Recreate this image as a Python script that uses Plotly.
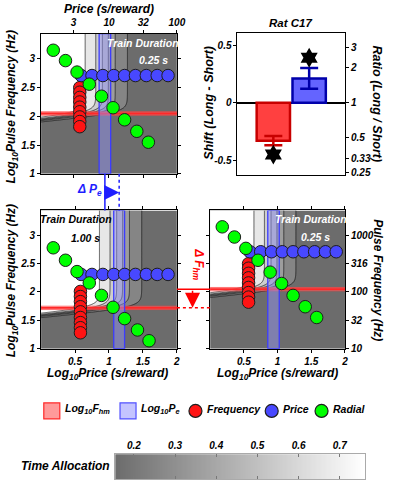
import numpy as np
import plotly.graph_objects as go

W, H = 397, 489

# ---------------- data ----------------
# 0.25 s train duration (top-left and bottom-right panels)
short_freq_logP = [0.57, 0.57, 0.57, 0.57, 0.57, 0.57, 0.57, 0.57, 0.57]
short_freq_logF = [2.50, 2.42, 2.33, 2.25, 2.16, 2.08, 1.99, 1.91, 1.82]
short_price_logP = [0.59, 0.75, 0.91, 1.07, 1.23, 1.39, 1.55, 1.71, 1.87]
short_price_logF = [2.71, 2.71, 2.71, 2.71, 2.71, 2.71, 2.71, 2.71, 2.71]
short_radial_logP = [0.18, 0.36, 0.53, 0.71, 0.89, 1.06, 1.23, 1.41, 1.58]
short_radial_logF = [3.15, 2.97, 2.77, 2.56, 2.35, 2.15, 1.94, 1.74, 1.55]

# 1.00 s train duration (bottom-left panel)
long_freq_logP = [0.58, 0.58, 0.58, 0.58, 0.58, 0.58, 0.58, 0.58, 0.58]
long_freq_logF = [2.01, 1.92, 1.83, 1.74, 1.65, 1.55, 1.46, 1.37, 1.28]
long_price_logP = [0.59, 0.75, 0.91, 1.07, 1.23, 1.39, 1.55, 1.71, 1.87]
long_price_logF = [2.31, 2.31, 2.31, 2.31, 2.31, 2.31, 2.31, 2.31, 2.31]
long_radial_logP = [0.18, 0.36, 0.53, 0.71, 0.89, 1.06, 1.23, 1.42, 1.59]
long_radial_logF = [2.78, 2.56, 2.36, 2.16, 1.94, 1.73, 1.53, 1.33, 1.14]

# fitted mountain parameters [short, long]
log_fhm = [2.05, 1.72]
log_fhm_ci = [0.03, 0.03]
log_pe = [0.94, 1.15]
log_pe_ci = [0.085, 0.08]
ta_min = 0.155
ta_max = 0.76
a_exp = 3.3
g_exp = 8.5

# shifts (long - short)
bar_categories = ["Frequency", "Price"]
shift_values = [-0.33, 0.21]
shift_errors = [0.04, 0.09]
star_y = [-0.45, 0.39]

# tick labels
price_ticks = [3, 10, 32, 100]
pulse_ticks = [10, 32, 100, 316, 1000]
ratio_ticks = [3, 2, 1, 0.5, 0.33, 0.25]
logF_ticks = [1, 1.5, 2, 2.5, 3]
logP_ticks = [0.5, 1, 1.5, 2]
ta_ticks = [0.2, 0.3, 0.4, 0.5, 0.6, 0.7]

# ---------------- style / layout helpers ----------------
FONT = "Liberation Sans, Arial, sans-serif"
XR = [0, 2]
YR = [1, 3.44]
RED = "rgb(255,20,20)"
BLUE = "rgb(72,72,255)"
GREEN = "rgb(0,255,0)"
GRAYSCALE = [[0, "rgb(108,108,108)"], [1, "rgb(255,255,255)"]]


def dx(p0, p1):
    return [p0 / W, p1 / W]


def dy(p_top, p_bot):
    return [1 - p_bot / H, 1 - p_top / H]


def fnt(size, color="black"):
    return dict(family=FONT, size=size, color=color, weight="bold", style="italic")


def mountain(lp, lf, fhm, pe):
    intensity = 1.0 / (1.0 + 10 ** (g_exp * (fhm - lf)))
    d = np.log10(intensity) + pe - lp
    return ta_min + (ta_max - ta_min) / (1.0 + 10 ** (-a_exp * d))


gx = np.linspace(XR[0], XR[1], 241)
gy = np.linspace(YR[0], YR[1], 301)
GX, GY = np.meshgrid(gx, gy)

fig = go.Figure()


def add_panel(xa, ya, idx, freq, price, radial):
    z = mountain(GX, GY, log_fhm[idx], log_pe[idx])
    fig.add_trace(go.Contour(
        x=gx, y=gy, z=z, xaxis=xa, yaxis=ya, colorscale=GRAYSCALE,
        zmin=ta_min, zmax=ta_max, zauto=False, showscale=False,
        contours=dict(start=0.2, end=0.7, size=0.1, coloring="fill"),
        line=dict(color="rgb(20,20,20)", width=0.7), hoverinfo="skip"))
    # Fhm band
    f, fc = log_fhm[idx], log_fhm_ci[idx]
    fig.add_trace(go.Scatter(
        x=[XR[0], XR[1], XR[1], XR[0], XR[0]], y=[f - fc, f - fc, f + fc, f + fc, f - fc],
        fill="toself", fillcolor="rgba(255,110,110,0.6)", mode="lines",
        line=dict(color="rgba(255,60,60,0.8)", width=0.8), xaxis=xa, yaxis=ya, hoverinfo="skip"))
    fig.add_trace(go.Scatter(x=XR, y=[f, f], mode="lines", line=dict(color="rgb(255,40,40)", width=1.8),
                             xaxis=xa, yaxis=ya, hoverinfo="skip"))
    # Pe band
    p, pc = log_pe[idx], log_pe_ci[idx]
    fig.add_trace(go.Scatter(
        x=[p - pc, p + pc, p + pc, p - pc, p - pc], y=[YR[0], YR[0], YR[1], YR[1], YR[0]],
        fill="toself", fillcolor="rgba(150,150,255,0.45)", mode="lines",
        line=dict(color="rgb(60,60,255)", width=1.3), xaxis=xa, yaxis=ya, hoverinfo="skip"))
    # sweeps
    for (xs, ys), col in zip([freq, price, radial], [RED, BLUE, GREEN]):
        fig.add_trace(go.Scatter(
            x=xs, y=ys, mode="markers", xaxis=xa, yaxis=ya, hoverinfo="skip",
            marker=dict(size=12.5, color=col, line=dict(color="rgb(30,30,30)", width=1))))


add_panel("x", "y", 0, (short_freq_logP, short_freq_logF), (short_price_logP, short_price_logF),
          (short_radial_logP, short_radial_logF))
add_panel("x3", "y3", 1, (long_freq_logP, long_freq_logF), (long_price_logP, long_price_logF),
          (long_radial_logP, long_radial_logF))
add_panel("x4", "y4", 0, (short_freq_logP, short_freq_logF), (short_price_logP, short_price_logF),
          (short_radial_logP, short_radial_logF))

# bar panel
bar_fill = ["rgb(255,64,64)", "rgb(100,100,255)"]
bar_edge = ["rgb(200,0,0)", "rgb(0,0,170)"]
for i in range(2):
    fig.add_trace(go.Bar(
        x=[bar_categories[i]], y=[shift_values[i]], width=0.93, xaxis="x2", yaxis="y2",
        marker=dict(color=bar_fill[i], line=dict(color=bar_edge[i], width=2.5)),
        error_y=dict(type="data", array=[shift_errors[i]], color=bar_edge[i], thickness=2.5, width=9)))
fig.add_trace(go.Scatter(x=bar_categories, y=star_y, mode="markers", xaxis="x2", yaxis="y2",
                         marker=dict(symbol="hexagram", size=15, color="black")))
fig.add_trace(go.Scatter(x=bar_categories, y=[0, 0], mode="markers", xaxis="x2", yaxis="y5",
                         marker=dict(opacity=0), hoverinfo="skip"))

# colour bar as a heatmap strip
cb_x = np.linspace(ta_min, ta_max, 200)
fig.add_trace(go.Heatmap(x=cb_x, y=[0, 1], z=[cb_x, cb_x], colorscale=GRAYSCALE, zmin=ta_min, zmax=ta_max,
                         showscale=False, xaxis="x5", yaxis="y6", hoverinfo="skip"))

ax_common = dict(showline=True, linecolor="black", linewidth=1, mirror="ticks", ticks="outside",
                 ticklen=3, tickcolor="black", showgrid=False, zeroline=False, tickfont=fnt(10))

layout = dict(
    width=W, height=H, margin=dict(l=0, r=0, t=0, b=0), showlegend=False,
    paper_bgcolor="white", plot_bgcolor="white", barmode="overlay", font=fnt(10),
    xaxis=dict(ax_common, domain=dx(42, 181), range=XR, anchor="y", side="top",
               tickvals=list(np.log10(price_ticks)), ticktext=[str(v) for v in price_ticks]),
    yaxis=dict(ax_common, domain=dy(34, 176), range=YR, anchor="x",
               tickvals=logF_ticks, ticktext=[f"{v:g}" for v in logF_ticks]),
    xaxis2=dict(ax_common, domain=dx(243, 353), range=[-1, 2], anchor="y2", type="category",
                showticklabels=False, ticks="", mirror=True),
    yaxis2=dict(ax_common, domain=dy(33, 177), range=[-0.626, 0.608], anchor="x2",
                tickvals=[-0.5, 0, 0.5], ticktext=["-0.5", "0", "0.5"], mirror=True,
                zeroline=True, zerolinecolor="black", zerolinewidth=1.5),
    yaxis5=dict(ax_common, range=[-0.626, 0.608], overlaying="y2", side="right", anchor="x2",
                tickvals=list(np.log10(ratio_ticks)), ticktext=[f"{v:g}" for v in ratio_ticks], mirror=False),
    xaxis3=dict(ax_common, domain=dx(42, 181), range=XR, anchor="y3",
                tickvals=logP_ticks, ticktext=[f"{v:g}" for v in logP_ticks]),
    yaxis3=dict(ax_common, domain=dy(213, 353), range=YR, anchor="x3",
                tickvals=logF_ticks, ticktext=[f"{v:g}" for v in logF_ticks]),
    xaxis4=dict(ax_common, domain=dx(215, 353), range=XR, anchor="y4",
                tickvals=logP_ticks, ticktext=[f"{v:g}" for v in logP_ticks]),
    yaxis4=dict(ax_common, domain=dy(213, 353), range=YR, anchor="x4", side="right",
                tickvals=list(np.log10(pulse_ticks)), ticktext=[str(v) for v in pulse_ticks]),
    xaxis5=dict(ax_common, domain=dx(118, 373), range=[ta_min, ta_max], anchor="y6", side="top",
                tickvals=ta_ticks, ticktext=[f"{v:g}" for v in ta_ticks], ticks="inside",
                linecolor="rgb(170,170,170)", tickcolor="rgb(120,120,120)", mirror="ticks"),
    yaxis6=dict(domain=dy(460, 485), range=[0, 1], anchor="x5", showticklabels=False,
                showgrid=False, zeroline=False, ticks="", showline=True, linecolor="rgb(170,170,170)",
                mirror=True),
)
fig.update_layout(**layout)

ann = []


def text(x, y, s, size, color="black", angle=0, xanchor="center", yanchor="middle"):
    ann.append(dict(x=x / W, y=1 - y / H, xref="paper", yref="paper", text=s, showarrow=False,
                    font=fnt(size, color), textangle=angle, xanchor=xanchor, yanchor=yanchor))


text(112, 9, "Price (s/reward)", 12)
text(12, 108, "Log<sub>10</sub>Pulse Frequency (Hz)", 12, angle=-90)
text(12, 284, "Log<sub>10</sub>Pulse Frequency (Hz)", 12, angle=-90)
text(110, 379, "Log<sub>10</sub>Price (s/reward)", 12)
text(284, 379, "Log<sub>10</sub>Price (s/reward)", 12)
text(387, 284, "Pulse Frequency (Hz)", 12, angle=90)
text(297, 23, "Rat C17", 11.5)
text(214, 104, "Shift (Long - Short)", 12.5, angle=-90)
text(386, 105, "Ratio (Long / Short)", 12.5, angle=90)
text(146, 44, "Train Duration", 10.5, "white")
text(157, 61, "0.25 s", 10.5, "white")
text(78, 222, "Train Duration", 10.5)
text(87, 241, "1.00 s", 10.5)
text(318, 222, "Train Duration", 10.5, "white")
text(323, 240, "0.25 s", 10.5, "white")
text(67, 472, "Time Allocation", 12)
text(92, 192, "Δ P<sub>e</sub>", 12, "rgb(30,30,255)")
text(203, 268, "Δ F<sub>hm</sub>", 12, "rgb(255,0,0)", angle=90)

# legend (custom row)
legend_items = [("Log<sub>10</sub>F<sub>hm</sub>", 53, "square", "rgba(255,120,120,0.75)", "rgb(255,40,40)"),
                ("Log<sub>10</sub>P<sub>e</sub>", 131, "square", "rgba(190,190,255,0.9)", "rgb(80,80,255)"),
                ("Frequency", 200, "circle", RED, "rgb(30,30,30)"),
                ("Price", 278, "circle", BLUE, "rgb(30,30,30)"),
                ("Radial", 329, "circle", GREEN, "rgb(30,30,30)")]
shapes = []
for label, cx, kind, fc, lc in legend_items:
    half = 8 if kind == "square" else 6.5
    shapes.append(dict(type="rect" if kind == "square" else "circle", xref="paper", yref="paper",
                       xsizemode="pixel", ysizemode="pixel", xanchor=cx / W, yanchor=1 - 416 / H,
                       x0=-half, x1=half, y0=-half, y1=half, fillcolor=fc,
                       line=dict(color=lc, width=1.2)))
    text(cx + half + 3, 414, label, 10.5, xanchor="left")

# delta Pe markers
y_tl_bot, y_bl_top = 1 - 176 / H, 1 - 213 / H
shapes.append(dict(type="line", xref="x", yref="paper", x0=log_pe[0], x1=log_pe[0], y0=y_tl_bot, y1=y_bl_top,
                   line=dict(color="rgb(30,30,255)", width=1.5)))
shapes.append(dict(type="line", xref="x", yref="paper", x0=log_pe[1], x1=log_pe[1], y0=y_tl_bot, y1=y_bl_top,
                   line=dict(color="rgb(30,30,255)", width=1.5, dash="dot")))
ann.append(dict(x=log_pe[1], y=1 - 195 / H, xref="x", yref="paper", ax=log_pe[0], axref="x", ay=0,
                ayref="pixel", text="", showarrow=True, arrowhead=2, arrowsize=2.0, arrowwidth=1.5,
                arrowcolor="rgb(30,30,255)"))
# delta Fhm markers
shapes.append(dict(type="line", xref="paper", yref="y4", x0=181 / W, x1=215 / W, y0=log_fhm[0], y1=log_fhm[0],
                   line=dict(color="rgb(255,0,0)", width=1.5)))
shapes.append(dict(type="line", xref="paper", yref="y3", x0=181 / W, x1=215 / W, y0=log_fhm[1], y1=log_fhm[1],
                   line=dict(color="rgb(255,0,0)", width=1.5, dash="dot")))
ann.append(dict(x=197 / W, y=log_fhm[1], xref="paper", yref="y3", ax=0, axref="pixel", ay=log_fhm[0],
                ayref="y3", text="", showarrow=True, arrowhead=2, arrowsize=2.0, arrowwidth=1.5,
                arrowcolor="rgb(255,0,0)"))

fig.update_layout(annotations=ann, shapes=shapes)
fig.write_html("out.html", config={"displayModeBar": False},
               post_script="document.body.style.margin='0px';document.body.style.overflow='hidden';")
